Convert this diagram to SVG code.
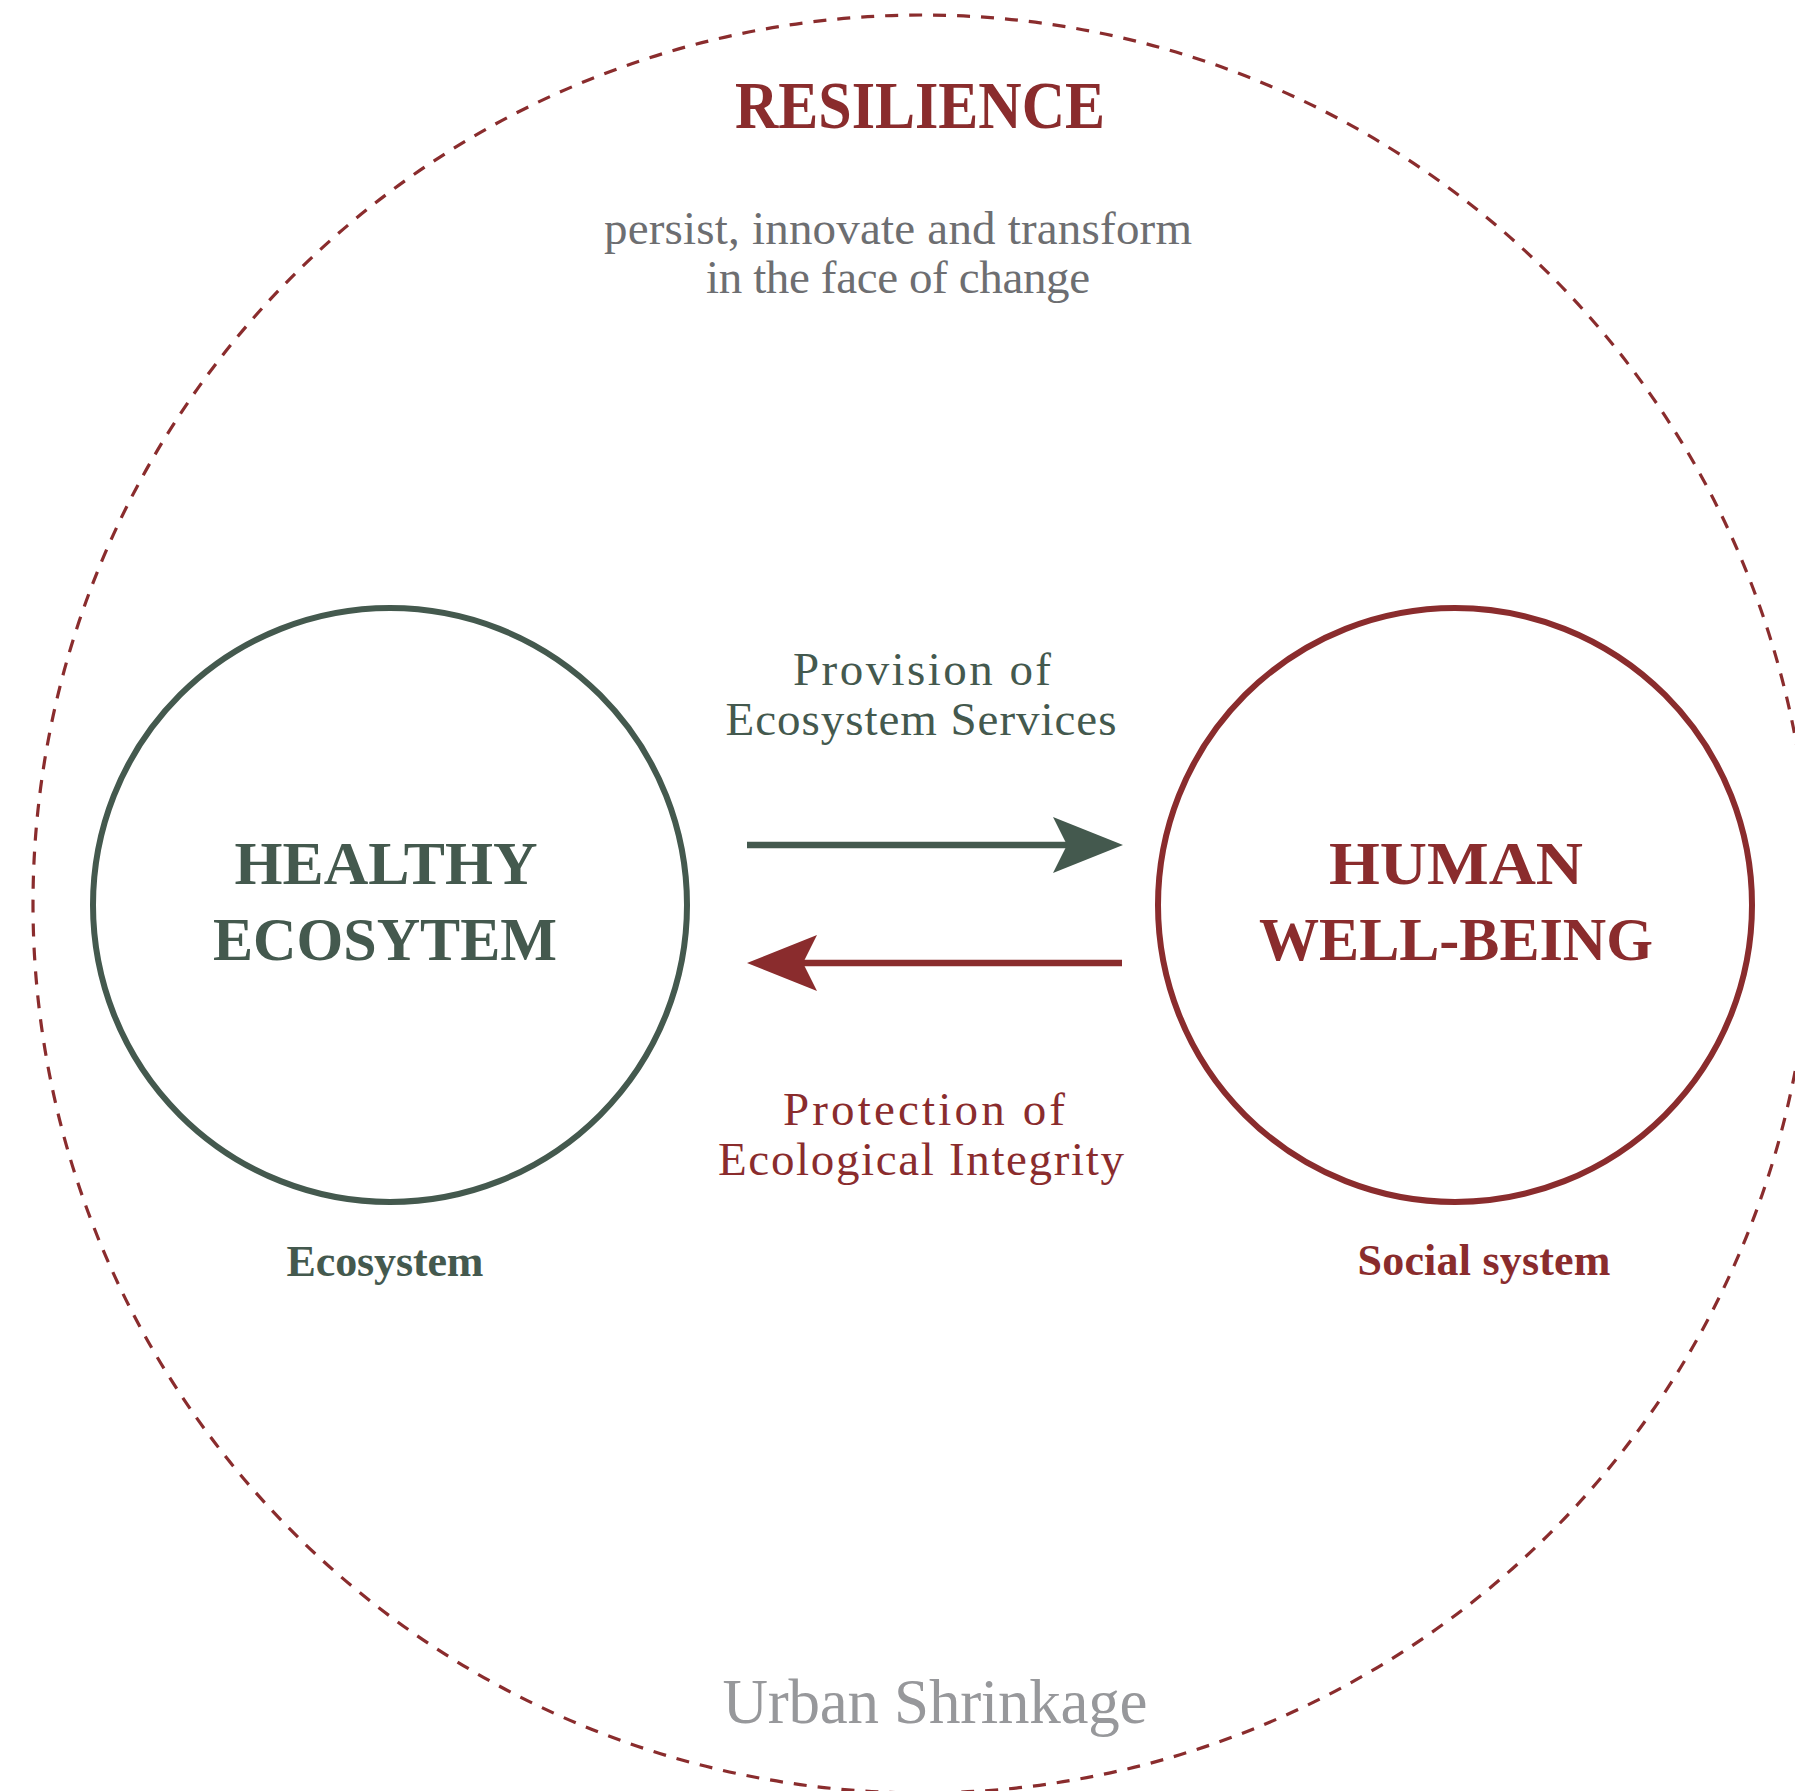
<svg xmlns="http://www.w3.org/2000/svg" width="1795" height="1791" viewBox="0 0 1795 1791">
<style>
  text { font-family: "Liberation Serif", "Times New Roman", serif; text-anchor: middle; }
  .green { fill: #44594E; }
  .red { fill: #8A2C2D; }
  .gray { fill: #6D6E71; }
  .light { fill: #97989B; }
  .title { font-weight: bold; font-size: 61px; }
  .sub { font-weight: bold; font-size: 44px; }
  .flow { font-size: 47px; }
  .ring { fill: none; stroke-width: 6; }
  .conn { fill: none; stroke-width: 6.5; }
</style>
<defs>
  <marker id="head-green" markerUnits="userSpaceOnUse" markerWidth="70" markerHeight="56" viewBox="0 0 70 56" refX="14" refY="28" orient="auto">
    <path d="M0,0 L70,28 L0,56 L14,28 Z" fill="#44594E"/>
  </marker>
  <marker id="head-red" markerUnits="userSpaceOnUse" markerWidth="70" markerHeight="56" viewBox="0 0 70 56" refX="14" refY="28" orient="auto">
    <path d="M0,0 L70,28 L0,56 L14,28 Z" fill="#8A2C2D"/>
  </marker>
</defs>
<rect width="1795" height="1791" fill="#ffffff"/>

<g id="resilience">
  <circle cx="922" cy="904" r="889" fill="none" stroke="#8A2C2D" stroke-width="3.2" stroke-dasharray="13 11"/>
  <text x="920" y="128" class="red" font-size="67" font-weight="bold" textLength="370" lengthAdjust="spacingAndGlyphs">RESILIENCE</text>
  <text x="898" y="244" class="gray flow" textLength="588">persist, innovate and transform</text>
  <text x="898" y="293" class="gray flow" textLength="384">in the face of change</text>
</g>

<g id="healthy-ecosystem">
  <circle cx="390" cy="905" r="297" class="ring" stroke="#44594E"/>
  <text x="386" y="884" class="green title" textLength="303" lengthAdjust="spacingAndGlyphs">HEALTHY</text>
  <text x="385" y="960" class="green title" textLength="344" lengthAdjust="spacingAndGlyphs">ECOSYTEM</text>
  <text x="385" y="1276" class="green sub" textLength="197">Ecosystem</text>
</g>

<g id="human-well-being">
  <circle cx="1455" cy="905" r="297" class="ring" stroke="#8A2C2D"/>
  <text x="1456" y="884" class="red title" textLength="254" lengthAdjust="spacingAndGlyphs">HUMAN</text>
  <text x="1456" y="960" class="red title" textLength="394" lengthAdjust="spacingAndGlyphs">WELL-BEING</text>
  <text x="1484" y="1275" class="red sub" textLength="253">Social system</text>
</g>

<g id="connectors">
  <line x1="747" y1="845" x2="1067" y2="845" class="conn" stroke="#44594E" marker-end="url(#head-green)"/>
  <text x="922" y="685" class="green flow" textLength="258">Provision of</text>
  <text x="921" y="735" class="green flow" textLength="391">Ecosystem Services</text>
  <line x1="1122" y1="963" x2="803" y2="963" class="conn" stroke="#8A2C2D" marker-end="url(#head-red)"/>
  <text x="924" y="1125" class="red flow" textLength="282">Protection of</text>
  <text x="921" y="1175" class="red flow" textLength="406">Ecological Integrity</text>
</g>

<g id="urban-shrinkage">
  <text x="935" y="1723" class="light" font-size="63" textLength="425">Urban Shrinkage</text>
</g>
</svg>
